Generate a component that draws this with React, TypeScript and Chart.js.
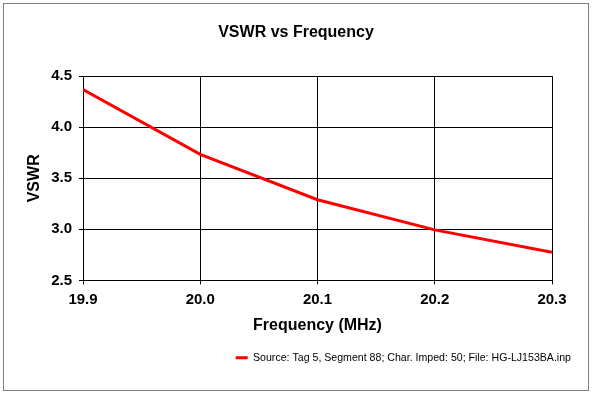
import React, { useEffect, useRef } from "react";
import { Chart, registerables } from "chart.js";

Chart.register(...registerables);

const frequencies = [19.9, 20.0, 20.1, 20.2, 20.3];
const vswrValues = [4.37, 3.735, 3.29, 2.995, 2.775];
const chartTitle = "VSWR vs Frequency";
const xTitle = "Frequency (MHz)";
const yTitle = "VSWR";
const seriesLabel = "Source: Tag 5, Segment 88; Char. Imped: 50; File: HG-LJ153BA.inp";

const FONT = "'Liberation Sans', Arial, sans-serif";

const borderPlugin = {
  id: "outerBorder",
  beforeDraw(chart: any) {
    const ctx = chart.ctx;
    ctx.save();
    ctx.fillStyle = "#ffffff";
    ctx.fillRect(0, 0, chart.width, chart.height);
    ctx.restore();
  },
  afterDraw(chart: any) {
    const ctx = chart.ctx;
    ctx.save();
    ctx.strokeStyle = "#000000";
    ctx.lineWidth = 1;
    ctx.setLineDash([1, 1]);
    ctx.strokeRect(3.5, 3.5, chart.width - 7, chart.height - 7);
    ctx.restore();
  },
};

export default function App() {
  const canvasRef = useRef<HTMLCanvasElement | null>(null);

  useEffect(() => {
    document.body.style.margin = "0";
    const canvas = canvasRef.current;
    if (!canvas) return;
    const data = frequencies.map((f, i) => ({ x: f, y: vswrValues[i] }));
    const chart = new Chart(canvas, {
      type: "line",
      data: {
        datasets: [
          {
            label: seriesLabel,
            data,
            borderColor: "#ff0000",
            backgroundColor: "#ff0000",
            borderWidth: 3,
            pointRadius: 0,
            tension: 0,
            fill: false,
          },
        ],
      },
      options: {
        responsive: false,
        animation: false,
        devicePixelRatio: 1,
        layout: { padding: { top: 0, left: 11, right: 11, bottom: 21 } },
        plugins: {
          title: {
            display: true,
            text: chartTitle,
            color: "#000000",
            font: { family: FONT, size: 16, weight: "bold" },
            padding: { top: 23, bottom: 34 },
          },
          legend: {
            display: true,
            position: "bottom",
            align: "end",
            labels: {
              color: "#000000",
              font: { family: FONT, size: 10.6 },
              boxWidth: 12,
              boxHeight: 3,
              padding: 10,
              generateLabels: (ch: any) =>
                Chart.defaults.plugins.legend.labels
                  .generateLabels(ch)
                  .map((l: any) => ({ ...l, lineWidth: 0, fillStyle: "#ff0000", strokeStyle: "#ff0000" })),
            },
          },
          tooltip: { enabled: false },
        },
        scales: {
          x: {
            type: "linear",
            min: 19.9,
            max: 20.3,
            afterFit: (scale: any) => {
              scale.height = 62;
              scale.paddingRight = 40;
            },
            ticks: {
              stepSize: 0.1,
              color: "#000000",
              font: { family: FONT, size: 15, weight: "bold" },
              padding: 6,
              maxRotation: 0,
              callback: (v: any) => Number(v).toFixed(1),
            },
            grid: { color: "#000000", lineWidth: 1, tickLength: 4, tickColor: "#000000" },
            border: { color: "#000000", width: 1 },
            title: {
              display: true,
              text: xTitle,
              color: "#000000",
              font: { family: FONT, size: 16, weight: "bold" },
              padding: { top: 0, bottom: 7 },
            },
          },
          y: {
            type: "linear",
            min: 2.5,
            max: 4.5,
            afterFit: (scale: any) => {
              scale.width = 72;
            },
            ticks: {
              stepSize: 0.5,
              color: "#000000",
              font: { family: FONT, size: 15, weight: "bold" },
              padding: 7,
              callback: (v: any) => Number(v).toFixed(1),
            },
            grid: { color: "#000000", lineWidth: 1, tickLength: 4, tickColor: "#000000" },
            border: { color: "#000000", width: 1 },
            title: {
              display: true,
              text: yTitle,
              color: "#000000",
              font: { family: FONT, size: 16, weight: "bold" },
              padding: { top: 14, bottom: 0 },
            },
          },
        },
      },
      plugins: [borderPlugin],
    });
    return () => chart.destroy();
  }, []);

  return (
    <div style={{ width: 592, height: 394 }}>
      <canvas ref={canvasRef} width={592} height={394} style={{ display: "block" }} />
    </div>
  );
}
